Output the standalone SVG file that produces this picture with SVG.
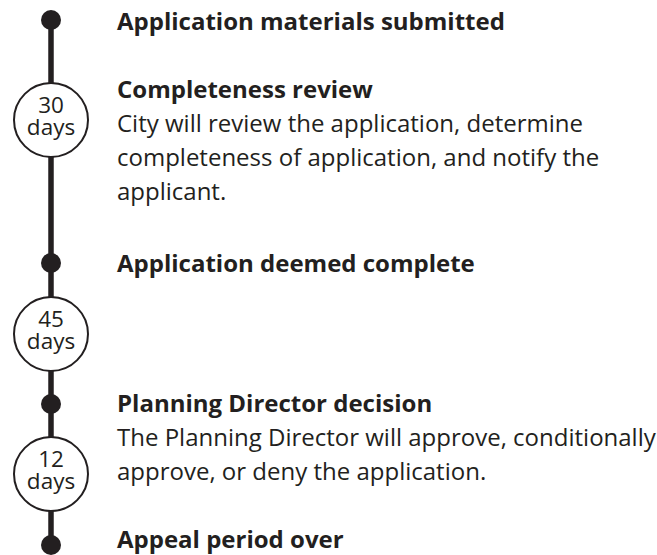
<svg xmlns="http://www.w3.org/2000/svg" width="657" height="555" viewBox="0 0 657 555">
<style>
.t{font-family:"Open Sans","Liberation Sans",sans-serif;fill:#231f20;font-size:24px}
.h{font-weight:bold}
.c{font-family:"Open Sans","Liberation Sans",sans-serif;fill:#231f20;font-size:22.5px;text-anchor:middle}
.dot{fill:#231f20}
.ring{fill:#fff;stroke:#231f20;stroke-width:2}
</style>
<rect width="657" height="555" fill="#fff"/>
<g id="connectors">
<line x1="51" y1="20" x2="51" y2="545" stroke="#231f20" stroke-width="5.5"/>
</g>
<g id="n1"><circle class="dot" cx="51" cy="20" r="10"/><text class="t h" x="117" y="30">Application materials submitted</text></g>
<g id="d30"><circle class="ring" cx="51" cy="120" r="37"/><text class="c" x="51" y="113">30<tspan x="51" dy="22">days</tspan></text></g>
<g id="n2"><text class="t h" x="117" y="98">Completeness review</text>
<text class="t" x="117" y="132">City will review the application, determine</text>
<text class="t" x="117" y="166">completeness of application, and notify the</text>
<text class="t" x="117" y="200">applicant.</text></g>
<g id="n3"><circle class="dot" cx="51" cy="263" r="10"/><text class="t h" x="117" y="272">Application deemed complete</text></g>
<g id="d45"><circle class="ring" cx="51" cy="334" r="37"/><text class="c" x="51" y="327">45<tspan x="51" dy="22">days</tspan></text></g>
<g id="n4"><circle class="dot" cx="51" cy="404" r="10"/><text class="t h" x="117" y="412">Planning Director decision</text>
<text class="t" x="117" y="446">The Planning Director will approve, conditionally</text>
<text class="t" x="117" y="480">approve, or deny the application.</text></g>
<g id="d12"><circle class="ring" cx="51" cy="474" r="37"/><text class="c" x="51" y="467">12<tspan x="51" dy="22">days</tspan></text></g>
<g id="n5"><circle class="dot" cx="51" cy="545" r="10"/><text class="t h" x="117" y="548">Appeal period over</text></g>
</svg>
